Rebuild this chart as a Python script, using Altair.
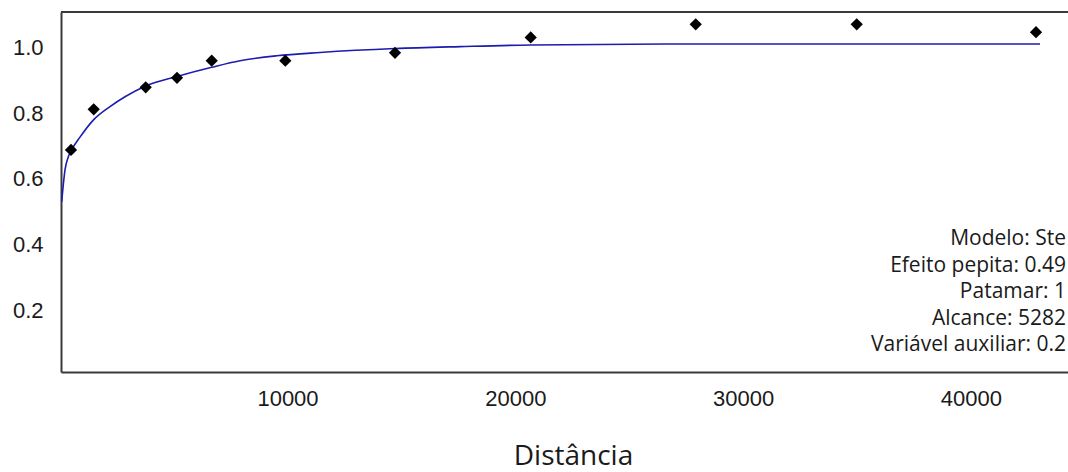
import altair as alt
import pandas as pd

# Experimental semivariogram points (distance, semivariance)
dist_pts = [496, 1493, 3775, 5149, 6673, 9904, 14719, 20676, 27920, 34987, 42858]
gamma_pts = [0.688, 0.812, 0.879, 0.908, 0.960, 0.960, 0.984, 1.031, 1.071, 1.071, 1.047]

# Fitted model curve
dist_curve = [88, 233, 378, 496, 891, 1475, 2208, 2867, 3775, 5149, 6673, 7915,
              9526, 11427, 14719, 17573, 20676, 28100, 43034]
gamma_curve = [0.530, 0.627, 0.667, 0.685, 0.727, 0.779, 0.820, 0.850, 0.883, 0.912,
               0.940, 0.960, 0.975, 0.985, 0.997, 1.003, 1.008, 1.011, 1.011]

x_ticks = [10000, 20000, 30000, 40000]
y_ticks = [0.2, 0.4, 0.6, 0.8, 1.0]

info_lines = ["Modelo: Ste", "Efeito pepita: 0.49", "Patamar: 1",
              "Alcance: 5282", "Variável auxiliar: 0.2"]

W, H = 1007, 360

pts = pd.DataFrame({"d": dist_pts, "g": gamma_pts})
crv = pd.DataFrame({"d": dist_curve, "g": gamma_curve})
one = pd.DataFrame({"k": [0]})

xscale = alt.Scale(domain=[57, 44262], nice=False, zero=False)
yscale = alt.Scale(domain=[0.011, 1.1085], nice=False, zero=False)

xaxis = alt.Axis(values=x_ticks, format="d", ticks=False, grid=False,
                 labelFont="Liberation Sans", labelFontSize=22, labelColor="#1a1a1a",
                 labelPadding=16, domainColor="#3a3a3a", domainWidth=2,
                 title="Distância", titleFont="Open Sans", titleFontSize=28,
                 titleFontWeight="normal", titleColor="#1a1a1a",
                 titleBaseline="alphabetic", titleAlign="center",
                 titleX=512, titleY=92)
yaxis = alt.Axis(values=y_ticks, format=".1f", ticks=False, grid=False,
                 labelFont="Liberation Sans", labelFontSize=22, labelColor="#1a1a1a",
                 labelPadding=18, domainColor="#3a3a3a", domainWidth=2, title=None)

curve = alt.Chart(crv).mark_line(color="#1c1cb0", strokeWidth=1.6, interpolate="monotone").encode(
    x=alt.X("d:Q", scale=xscale, axis=xaxis),
    y=alt.Y("g:Q", scale=yscale, axis=yaxis),
)

points = alt.Chart(pts).mark_point(shape="diamond", filled=True, color="black",
                                   size=150, opacity=1).encode(
    x=alt.X("d:Q", scale=xscale),
    y=alt.Y("g:Q", scale=yscale),
)

top_border = alt.Chart(one).mark_rule(color="#3a3a3a", strokeWidth=2).encode(
    x=alt.value(0), x2=alt.value(W), y=alt.value(0)
)

baselines = [233, 259.5, 286, 312.5, 339]
texts = []
for line, yb in zip(info_lines, baselines):
    texts.append(
        alt.Chart(one).mark_text(align="right", baseline="alphabetic", font="Open Sans",
                                 fontSize=21, color="#1a1a1a").encode(
            x=alt.value(1005), y=alt.value(yb), text=alt.value(line)
        )
    )

chart = alt.layer(curve, points, top_border, *texts).properties(
    width=W, height=H,
    autosize=alt.AutoSizeParams(type="none"),
    padding={"left": 61, "top": 12, "right": 0, "bottom": 100},
).configure_view(stroke=None).configure(background="white")

chart.save("out.html", embed_options={"renderer": "svg", "actions": False})
